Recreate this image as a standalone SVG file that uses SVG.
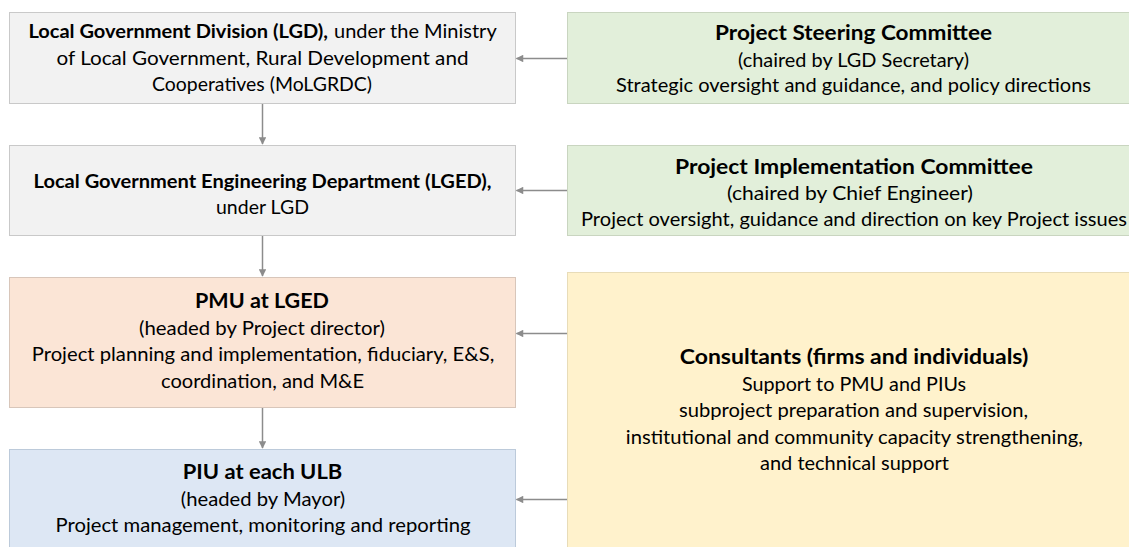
<svg xmlns="http://www.w3.org/2000/svg" width="1129" height="547" viewBox="0 0 1129 547">
<style>
text{font-family:Lato,"Open Sans","Liberation Sans",sans-serif;fill:#000000;}
.r{font-size:18.67px;}
.b{font-size:18.67px;font-weight:bold;}
.t{font-size:21.33px;font-weight:bold;}
.c{text-anchor:middle;}
.gray{fill:#f2f2f2;stroke:#c9c9c9;stroke-width:1;}
.green{fill:#e2efda;stroke:#c9d5c0;stroke-width:1;}
.peach{fill:#fbe5d6;stroke:#d8c6ba;stroke-width:1;}
.blue{fill:#dde7f4;stroke:#bccada;stroke-width:1;}
.yellow{fill:#fff2cc;stroke:#e8dcb8;stroke-width:1;}
.conn{stroke:#8c8c8c;stroke-width:1.5;fill:none;marker-end:url(#ah);}
</style>
<defs>
<marker id="ah" viewBox="0 0 10 10" refX="9" refY="5" markerWidth="6" markerHeight="5" orient="auto" markerUnits="strokeWidth">
<path d="M0,0 L10,5 L0,10 z" fill="#8c8c8c"/>
</marker>
</defs>
<rect width="1129" height="547" fill="#ffffff"/>

<g id="lgd">
<rect class="gray" x="9.5" y="12.5" width="506" height="91"/>
<text class="b" x="28.4" y="38" textLength="299.6" lengthAdjust="spacingAndGlyphs">Local Government Division (LGD),</text>
<text class="r" x="334" y="38" textLength="162.7" lengthAdjust="spacingAndGlyphs">under the Ministry</text>
<text class="r c" x="262.5" y="64.5" textLength="412" lengthAdjust="spacingAndGlyphs">of Local Government, Rural Development and</text>
<text class="r c" x="262" y="91" textLength="220" lengthAdjust="spacingAndGlyphs">Cooperatives (MoLGRDC)</text>
</g>

<g id="lged">
<rect class="gray" x="9.5" y="145.5" width="506" height="90"/>
<text class="b c" x="262.5" y="188" textLength="458" lengthAdjust="spacingAndGlyphs">Local Government Engineering Department (LGED),</text>
<text class="r c" x="262.5" y="214" textLength="93" lengthAdjust="spacingAndGlyphs">under LGD</text>
</g>

<g id="pmu">
<rect class="peach" x="9.5" y="277.5" width="506" height="130"/>
<text class="t c" x="262" y="308" textLength="134" lengthAdjust="spacingAndGlyphs">PMU at LGED</text>
<text class="r c" x="262" y="335" textLength="246" lengthAdjust="spacingAndGlyphs">(headed by Project director)</text>
<text class="r c" x="263" y="361" textLength="462.5" lengthAdjust="spacingAndGlyphs">Project planning and implementation, fiduciary, E&amp;S,</text>
<text class="r c" x="262.5" y="387.5" textLength="203" lengthAdjust="spacingAndGlyphs">coordination, and M&amp;E</text>
</g>

<g id="piu">
<rect class="blue" x="9.5" y="449.5" width="506" height="110"/>
<text class="t c" x="262.5" y="479" textLength="159.5" lengthAdjust="spacingAndGlyphs">PIU at each ULB</text>
<text class="r c" x="263" y="506" textLength="164.5" lengthAdjust="spacingAndGlyphs">(headed by Mayor)</text>
<text class="r c" x="263" y="532" textLength="415" lengthAdjust="spacingAndGlyphs">Project management, monitoring and reporting</text>
</g>

<g id="psc">
<rect class="green" x="567.5" y="12.5" width="580" height="91"/>
<text class="t c" x="853.5" y="40" textLength="277" lengthAdjust="spacingAndGlyphs">Project Steering Committee</text>
<text class="r c" x="853.5" y="66.5" textLength="231" lengthAdjust="spacingAndGlyphs">(chaired by LGD Secretary)</text>
<text class="r c" x="853.5" y="92" textLength="475" lengthAdjust="spacingAndGlyphs">Strategic oversight and guidance, and policy directions</text>
</g>

<g id="pic">
<rect class="green" x="567.5" y="145.5" width="580" height="90"/>
<text class="t c" x="854" y="173.5" textLength="358" lengthAdjust="spacingAndGlyphs">Project Implementation Committee</text>
<text class="r c" x="850" y="199.5" textLength="246" lengthAdjust="spacingAndGlyphs">(chaired by Chief Engineer)</text>
<text class="r c" x="854" y="225.5" textLength="546" lengthAdjust="spacingAndGlyphs">Project oversight, guidance and direction on key Project issues</text>
</g>

<g id="consultants">
<rect class="yellow" x="567.5" y="272.5" width="580" height="290"/>
<text class="t c" x="854" y="364" textLength="348.5" lengthAdjust="spacingAndGlyphs">Consultants (firms and individuals)</text>
<text class="r c" x="854" y="391" textLength="224" lengthAdjust="spacingAndGlyphs">Support to PMU and PIUs</text>
<text class="r c" x="853.5" y="417" textLength="349" lengthAdjust="spacingAndGlyphs">subproject preparation and supervision,</text>
<text class="r c" x="854.3" y="443.5" textLength="457" lengthAdjust="spacingAndGlyphs">institutional and community capacity strengthening,</text>
<text class="r c" x="854.5" y="470" textLength="189" lengthAdjust="spacingAndGlyphs">and technical support</text>
</g>

<g id="connectors">
<line class="conn" x1="262.5" y1="104" x2="262.5" y2="144"/>
<line class="conn" x1="262.5" y1="236" x2="262.5" y2="276"/>
<line class="conn" x1="262.5" y1="408" x2="262.5" y2="448"/>
<line class="conn" x1="567" y1="58.5" x2="516.5" y2="58.5"/>
<line class="conn" x1="567" y1="190.5" x2="516.5" y2="190.5"/>
<line class="conn" x1="567" y1="333.5" x2="516.5" y2="333.5"/>
<line class="conn" x1="567" y1="499.5" x2="516.5" y2="499.5"/>
</g>
</svg>
